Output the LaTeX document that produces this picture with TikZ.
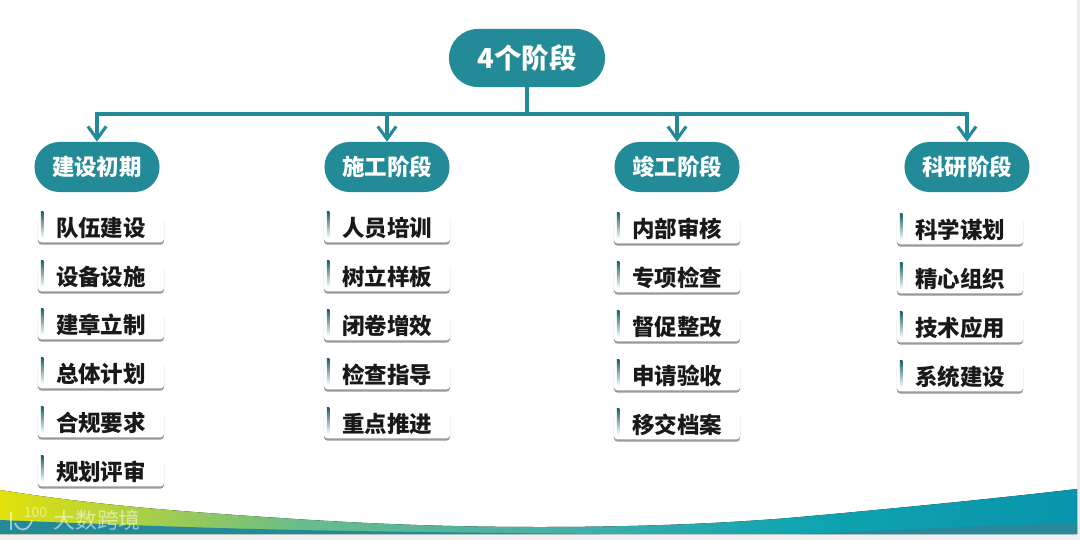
\documentclass[tikz,border=0pt]{standalone}
\usepackage{fontspec}
\setmainfont{Noto Sans CJK SC}
\usetikzlibrary{arrows.meta,shadows,positioning}
\definecolor{tealmain}{RGB}{35,139,152}
\definecolor{tealdark}{RGB}{40,136,156}
\definecolor{bandyellow}{RGB}{226,226,10}
\definecolor{bandgreen}{RGB}{105,188,138}
\definecolor{bandmint}{RGB}{70,175,168}
\definecolor{bandcyan}{RGB}{15,165,175}
\definecolor{bandblue}{RGB}{10,148,172}
\pgfdeclarehorizontalshading{bandfade}{100bp}{color(0bp)=(bandyellow); color(25bp)=(bandyellow); color(39bp)=(bandgreen); color(51bp)=(bandmint); color(62bp)=(bandcyan); color(75bp)=(bandblue); color(100bp)=(bandblue)}
\tikzset{
  phasebox/.style={fill=tealmain, rounded corners=0.62cm, minimum width=3.125cm, minimum height=1.25cm, text=white, font=\fontsize{16pt}{16pt}\selectfont\bfseries, inner sep=0pt},
  rootbox/.style={phasebox, rounded corners=0.72cm, minimum width=3.9cm, minimum height=1.45cm, font=\fontsize{19.5pt}{19.5pt}\selectfont\bfseries},
  itembox/.style={fill=white, rounded corners=2.5pt, minimum width=3.15cm, minimum height=0.72cm, font=\fontsize{16pt}{16pt}\selectfont\bfseries, inner sep=0pt, text=black!90, drop shadow={shadow xshift=0pt, shadow yshift=-1.6pt, fill=black!40, opacity=1}},
  markbar/.style={top color=tealmain!70!black, bottom color=white},
  linkline/.style={draw=tealmain, line width=2.2pt},
  linkarrow/.style={linkline, -{Straight Barb[length=9pt,width=13pt,line width=2.2pt]}},
  marktext/.style={text=white, opacity=0.55, inner sep=0pt},
}
\begin{document}
\begin{tikzpicture}[x=0.025cm, y=-0.025cm]
  \useasboundingbox (0,0) rectangle (1080,540);
  \fill[white] (0,0) rectangle (1080,540);
  % bottom band
  \fill[black!8] (1077,0) rectangle (1080,540);
  \fill[red!6!black!6] (0,534) rectangle (1080,540);
  \fill[shading=bandfade] (0,490) .. controls (100,506) and (190,512) .. (280,518) .. controls (370,524) and (450,527) .. (540,527) .. controls (630,527) and (720,524) .. (800,517) .. controls (900,508) and (1000,498) .. (1077,489) -- (1077,534) -- (0,534) -- cycle;
  \fill[tealmain] (0,520) .. controls (100,524) and (200,528) .. (300,530) .. controls (400,532) and (500,533) .. (600,534) -- (0,534) -- cycle;
  \fill[tealdark] (1077,523) .. controls (980,526) and (890,530) .. (800,534) -- (1077,534) -- cycle;
  \node[marktext, font=\fontsize{15.5pt}{15.5pt}\selectfont] (wmark) at (97,520) {大数跨境};
  \node[marktext, font=\fontsize{10pt}{10pt}\selectfont, left=0.14cm of wmark, yshift=0.18cm] (wlogo) {100};
  \draw[white, opacity=0.55, line width=1.3pt] (11,512) -- (11,530);
  \draw[white, opacity=0.55, line width=1.3pt] (15,523) .. controls (18,532) and (29,532) .. (32,520);
  % root and phases
  \node[rootbox] (root) at (527,58) {4个阶段};
  \node[phasebox] (build) at (97,167) {建设初期};
  \node[phasebox] (work) at (387,167) {施工阶段};
  \node[phasebox] (done) at (677,167) {竣工阶段};
  \node[phasebox] (study) at (967,167) {科研阶段};
  \coordinate (bus) at (527,114);
  \draw[linkline] (root.south) -- (bus);
  \foreach \n in {build,work,done,study}
    \draw[linkarrow] (bus) -| (\n.north);
  % items
  \foreach \y/\t [count=\i] in {228/队伍建设,277/设备设施,325/建章立制,374/总体计划,423/合规要求,472/规划评审}
    \node[itembox] (builditem\i) at (101,\y) {\t};
  \foreach \y/\t [count=\i] in {228/人员培训,277/树立样板,326/闭卷增效,375/检查指导,424/重点推进}
    \node[itembox] (workitem\i) at (387,\y) {\t};
  \foreach \y/\t [count=\i] in {229/内部审核,278/专项检查,327/督促整改,376/申请验收,425/移交档案}
    \node[itembox] (doneitem\i) at (677,\y) {\t};
  \foreach \y/\t [count=\i] in {230/科学谋划,279/精心组织,328/技术应用,377/系统建设}
    \node[itembox] (studyitem\i) at (960,\y) {\t};
  % accent bars
  \foreach \n/\c in {builditem/6,workitem/5,doneitem/5,studyitem/4}
    \foreach \i in {1,...,\c}
      \fill[markbar] ([xshift=0.08cm,yshift=0.05cm]\n\i.north west) rectangle ([xshift=0.14cm,yshift=0.11cm]\n\i.south west);
\end{tikzpicture}
\end{document}
